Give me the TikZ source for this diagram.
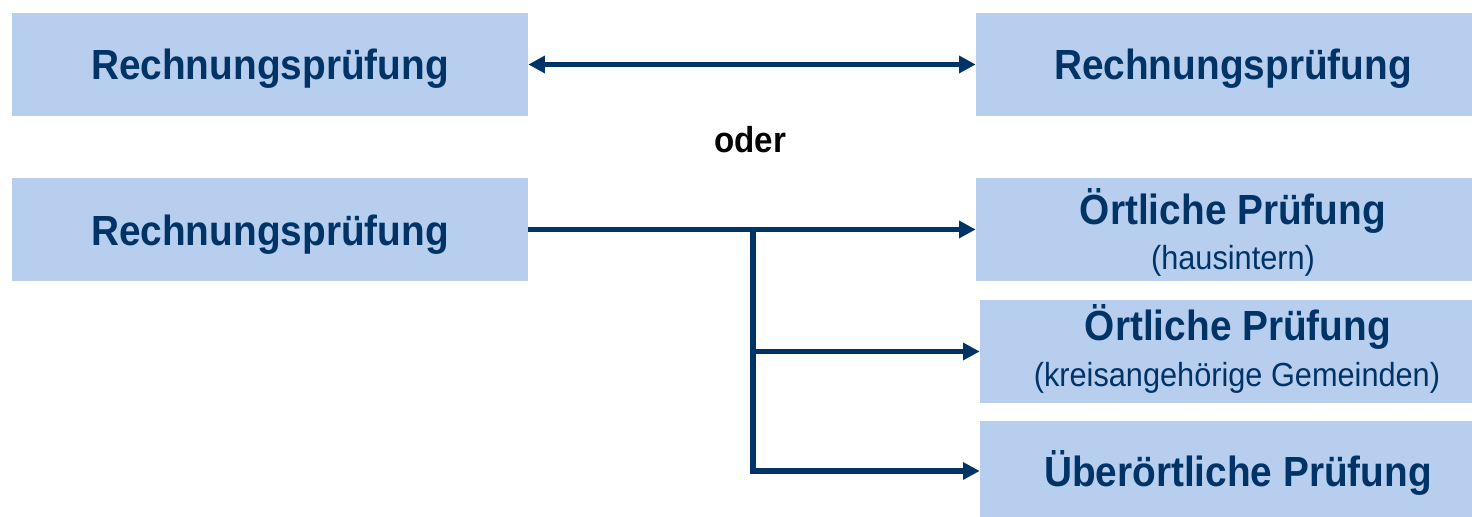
\documentclass[tikz,border=0pt]{standalone}
\usepackage{fontspec}
\setmainfont[FakeStretch=0.92]{Liberation Sans}
\usetikzlibrary{arrows.meta}
\definecolor{boxblue}{HTML}{B8CEEE}
\definecolor{navy}{HTML}{003366}
\begin{document}
\begin{tikzpicture}[x=0.02cm,y=-0.02cm,
  box/.style={fill=boxblue, inner sep=0pt, minimum height=2.06cm},
  ttl/.style={anchor=base, inner sep=0pt, text=navy, font=\bfseries\fontsize{24}{27}\selectfont},
  sub/.style={anchor=base, inner sep=0pt, text=navy, font=\fontsize{19}{22}\selectfont},
  conn/.style={draw=navy, line width=3.4pt},
  tip/.style={-{Triangle[length=9.5pt,width=9.5pt]}}]
\useasboundingbox (0,0) rectangle (1472,517);
\fill[white] (0,0) rectangle (1472,517);
% boxes
\node[box, minimum width=10.32cm] (l1) at (270,64.5) {};
\node[box, minimum width=10.28cm] (r1) at (1233,64.5) {};
\node[box, minimum width=10.32cm] (l2) at (270,229.5) {};
\node[box, minimum width=10.28cm] (r2) at (1233,229.5) {};
\node[box, minimum width=10.32cm] (r3) at (1238,351.5) {};
\node[box, minimum width=10.32cm] (r4) at (1238,472) {};
% texts
\node[ttl] (l1t) at (270,80) {Rechnungsprüfung};
\node[ttl] (r1t) at (1233,80) {Rechnungsprüfung};
\node[ttl] (l2t) at (270,245) {Rechnungsprüfung};
\node[ttl] (r2t) at (1233,225) {Örtliche Prüfung};
\node[sub] (r2s) at (1233,270) {(hausintern)};
\node[ttl] (r3t) at (1238,340) {Örtliche Prüfung};
\node[sub] (r3s) at (1237,386) {(kreisangehörige Gemeinden)};
\node[ttl] (r4t) at (1238,486) {Überörtliche Prüfung};
\node[anchor=base, inner sep=0pt, font=\bfseries\fontsize{20.5}{22}\selectfont] (oder) at (750,153) {oder};
% connectors
\draw[conn, {Triangle[length=9.5pt,width=9.5pt]}-{Triangle[length=9.5pt,width=9.5pt]}] (l1.east) -- (r1.west);
\coordinate (j1) at (753,229.5);
\coordinate (j2) at (753,351.5);
\coordinate (j3) at (753,471);
\draw[conn, tip] (l2.east) -- (r2.west);
\draw[conn, line cap=rect] (j1) -- (j3);
\draw[conn, tip] (j2) -- (r3.west);
\draw[conn, tip] (j3) -- (j3 -| r4.west);
\end{tikzpicture}
\end{document}
